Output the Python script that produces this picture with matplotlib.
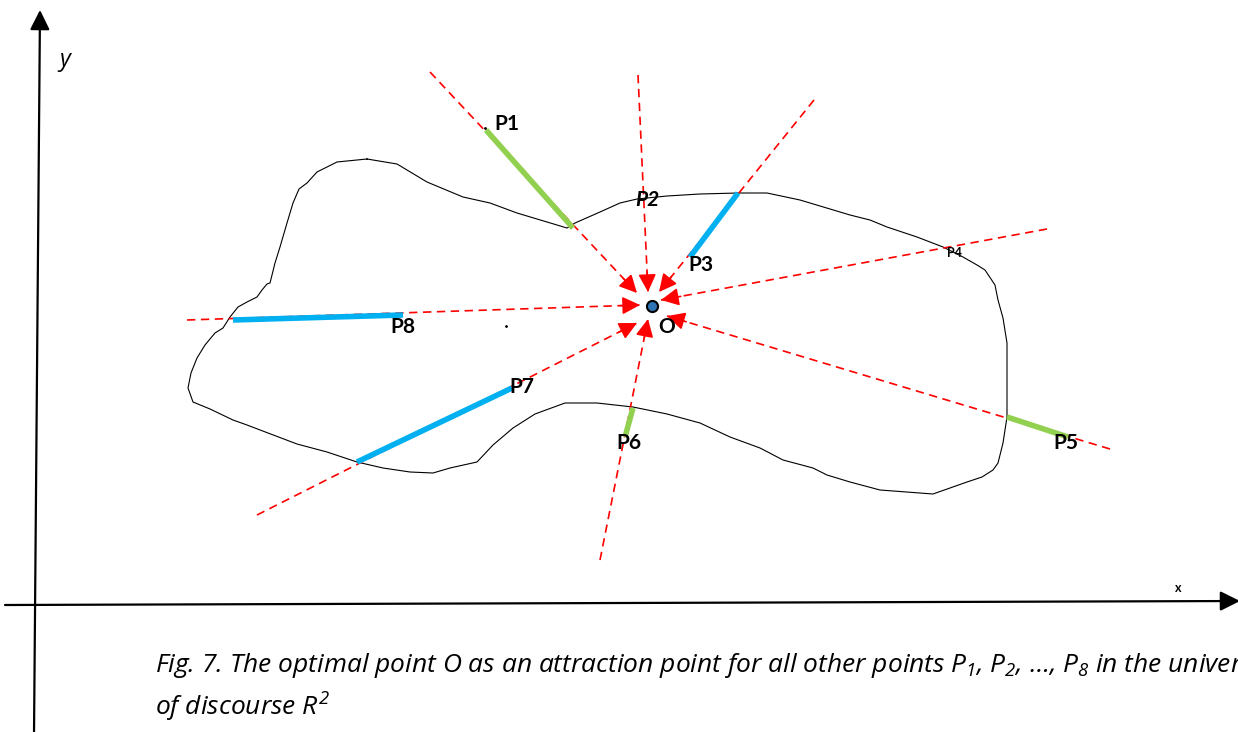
import matplotlib
matplotlib.use('Agg')
import matplotlib.pyplot as plt

plt.rcParams['font.family'] = ['Lato', 'DejaVu Sans']
plt.rcParams['mathtext.fontset'] = 'custom'
plt.rcParams['mathtext.rm'] = 'Open Sans:italic'
plt.rcParams['mathtext.it'] = 'Open Sans:italic'
plt.rcParams['lines.scale_dashes'] = False

# outline of the universe of discourse (picture coordinates, y down)
blob_x = [367, 397, 407, 427, 463, 490, 517, 567, 575, 600, 620, 637, 667, 700, 738, 767, 800, 850,
          870, 887, 917, 943, 963, 977, 985, 995, 998, 1003, 1007, 1007, 1007, 1003, 998, 993, 982,
          967, 950, 933, 880, 850, 827, 813, 783, 760, 730, 700, 667, 633, 597, 565, 535, 513, 493,
          477, 450, 433, 410, 383, 357, 327, 297, 268, 247, 233, 210, 193, 188, 191, 197, 205, 215,
          223, 230, 238, 247, 257, 262, 267, 270, 275, 280, 287, 293, 299, 307, 317, 337, 367]
blob_y = [159, 164, 170, 182, 197, 203, 213, 228, 223, 212, 203, 199, 196, 194, 193, 193, 200, 215,
          220, 227, 237, 247, 257, 265, 270, 285, 300, 318, 343, 373, 417, 443, 463, 470, 477,
          482, 488, 494, 490, 482, 475, 468, 460, 448, 437, 423, 414, 407, 403, 403, 414, 428, 445,
          462, 468, 473, 472, 468, 462, 452, 444, 433, 425, 420, 409, 402, 388, 373, 358, 345, 333,
          328, 317, 307, 302, 297, 290, 284, 283, 263, 247, 223, 203, 189, 183, 172, 162, 159]

# optimal point O
o_x, o_y = 652, 306

# red attraction rays: outer start and arrow tip near O
ray_x0 = [430, 638, 814, 1047, 1110, 600, 257, 187]
ray_y0 = [72, 75, 100, 229, 449, 560, 515, 320]
ray_x1 = [637, 648, 659, 661, 667, 648, 637, 640]
ray_y1 = [293, 292, 292, 300, 316, 319, 323, 305]

# thick segments (green / blue)
green_x0 = [486, 1007, 633]
green_y0 = [130, 417, 408]
green_x1 = [573, 1068, 625]
green_y1 = [228, 437, 437]
blue_x0 = [738, 233, 357]
blue_y0 = [193, 320, 462]
blue_x1 = [690, 403, 512]
blue_y1 = [257, 315, 388]

# point labels
labels = ['P1', 'P2', 'P3', 'P4', 'P5', 'P6', 'P7', 'P8', 'O']
label_x = [494, 647, 688, 947, 1053, 616, 509, 390, 658]
label_y = [124, 200, 265, 253, 443, 443, 387, 327, 327]

caption1 = ('Fig. 7. The optimal point O as an attraction point for all other points '
            '$P_1$, $P_2$, \u2026, $P_8$ in the universe')
caption2 = 'of discourse $R^2$'

fig = plt.figure(figsize=(12.38, 7.32), dpi=100)
ax = fig.add_axes([0, 0, 1, 1])
ax.set_xlim(0, 1238)
ax.set_ylim(732, 0)
ax.axis('off')

# coordinate axes
ax.annotate('', xy=(40, 10), xytext=(34, 735), annotation_clip=False,
            arrowprops=dict(arrowstyle='-|>', color='black', lw=1.6, mutation_scale=30,
                            shrinkA=0, shrinkB=0))
ax.annotate('', xy=(1240, 601), xytext=(5, 605), annotation_clip=False,
            arrowprops=dict(arrowstyle='-|>', color='black', lw=1.6, mutation_scale=30,
                            shrinkA=0, shrinkB=0))
ax.text(65, 60, 'y', fontsize=17, family='Open Sans', style='italic', ha='center', va='center')
ax.text(1178, 588, 'x', fontsize=9, fontweight='bold', ha='center', va='center')

# blob outline
ax.plot(blob_x, blob_y, color='black', lw=0.8)

# rays
for i in range(len(ray_x0)):
    ax.plot([ray_x0[i], ray_x1[i]], [ray_y0[i], ray_y1[i]], color='red', lw=1.2,
            linestyle=(0, (6, 4)))
    dx = ray_x1[i] - ray_x0[i]
    dy = ray_y1[i] - ray_y0[i]
    d = (dx ** 2 + dy ** 2) ** 0.5
    ax.annotate('', xy=(ray_x1[i], ray_y1[i]),
                xytext=(ray_x1[i] - dx / d * 20, ray_y1[i] - dy / d * 20),
                arrowprops=dict(arrowstyle='-|>', color='red', lw=1.2, mutation_scale=27,
                                shrinkA=0, shrinkB=0))

# thick segments
for i in range(len(green_x0)):
    ax.plot([green_x0[i], green_x1[i]], [green_y0[i], green_y1[i]], color='#92D050', lw=4,
            solid_capstyle='butt')
for i in range(len(blue_x0)):
    ax.plot([blue_x0[i], blue_x1[i]], [blue_y0[i], blue_y1[i]], color='#00B0F0', lw=4,
            solid_capstyle='butt')

# point O
ax.plot(o_x, o_y, 'o', markersize=8, markerfacecolor='#2E75B6', markeredgecolor='black',
        markeredgewidth=1.5)

# stray marks
ax.plot([485, 506], [128, 326], 'k.', markersize=2)

for lab, lx, ly in zip(labels, label_x, label_y):
    size = 9 if lab == 'P4' else 15
    style = 'italic' if lab == 'P2' else 'normal'
    ha = 'center' if lab == 'P2' else 'left'
    ax.text(lx, ly, lab, fontsize=size, fontweight='bold', style=style, ha=ha, va='center')

ax.text(155, 666, caption1, fontsize=19, family='Open Sans', style='italic',
        ha='left', va='center')
ax.text(155, 707, caption2, fontsize=19, family='Open Sans', style='italic',
        ha='left', va='center')

fig.savefig('out.png', dpi=100)
